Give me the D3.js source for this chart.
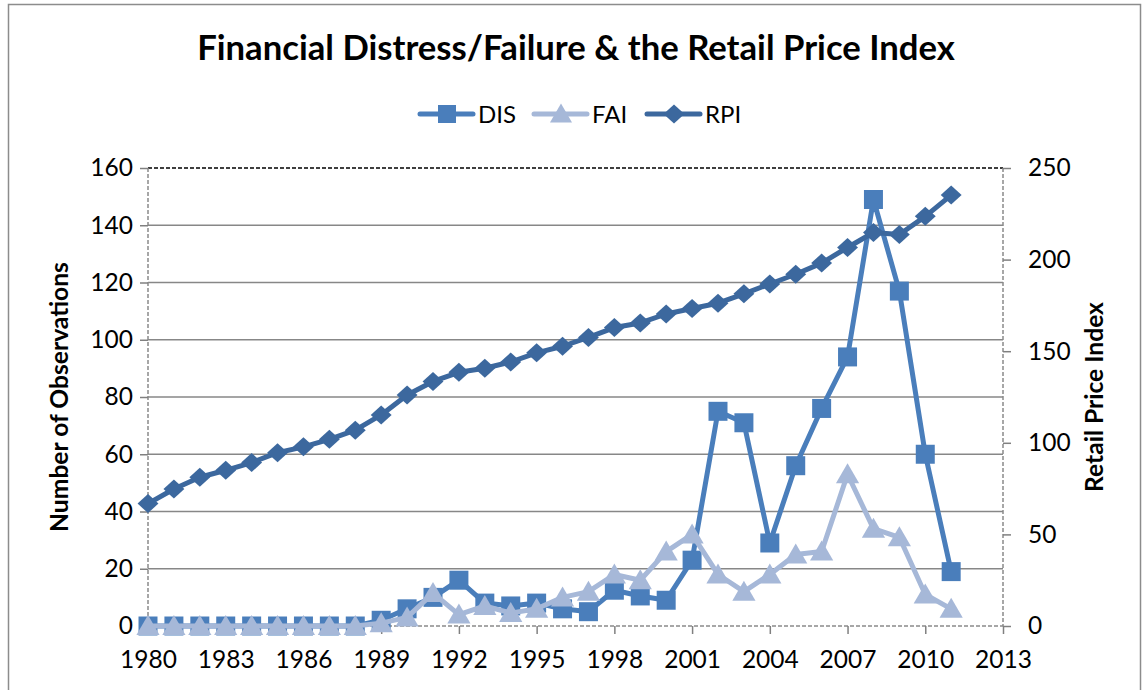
<!DOCTYPE html>
<html>
<head>
<meta charset="utf-8">
<script src="https://cdn.jsdelivr.net/npm/d3@7.9.0/dist/d3.min.js"></script>
<style>
  html, body { margin: 0; padding: 0; background: #fff; }
  svg { display: block; font-family: Lato, "Open Sans", sans-serif; }
</style>
</head>
<body>
<svg id="chart" width="1143" height="690"></svg>
<script>
/* ──── data ──── */
const years = d3.range(1980, 2012);          // 1980 … 2011

const dis = [0, 0, 0, 0, 0, 0, 0, 0, 0, 2, 6, 10, 16, 8, 7, 8,
             6, 5, 12.5, 10.5, 9, 23, 75, 71, 29, 56, 76, 94, 149, 117, 60, 19];

const fai = [0, 0, 0, 0, 0, 0, 0, 0, 0, 1, 3, 11.5, 4, 7, 4.5, 6,
             10, 12, 18, 16, 26, 32, 18, 12, 18, 25, 26, 53, 34, 31, 11, 6];

const rpi = [66.8, 74.8, 81.2, 85.0, 89.2, 94.6, 97.8, 101.9, 106.9, 115.2,
             126.1, 133.5, 138.5, 140.7, 144.1, 149.1, 152.7, 157.5, 162.9, 165.4,
             170.3, 173.3, 176.2, 181.3, 186.7, 192.0, 198.1, 206.6, 214.8, 213.7,
             223.6, 235.2];

const xTicks     = d3.range(1980, 2014, 3);
const leftTicks  = d3.range(0, 161, 20);
const rightTicks = d3.range(0, 251, 50);

const seriesNames = ['DIS', 'FAI', 'RPI'];

/* ──── layout ──── */
const plot = { left: 148, right: 1003, top: 168, bottom: 626 };

const colDIS = '#4a7ebb';
const colFAI = '#a6b8d8';
const colRPI = '#3c689e';

const svg = d3.select('#chart');

const x  = d3.scaleLinear().domain([1980, 2013]).range([plot.left, plot.right]);
const yL = d3.scaleLinear().domain([0, 160]).range([plot.bottom, plot.top]);
const yR = d3.scaleLinear().domain([0, 250]).range([plot.bottom, plot.top]);

/* marker shapes, centred on 0,0 */
const square   = s => `M${-s/2},${-s/2}h${s}v${s}h${-s}Z`;
const triangle = s => `M0,${-s*0.55}L${s*0.58},${s*0.45}L${-s*0.58},${s*0.45}Z`;
const diamond  = s => `M0,${-s*0.5}L${s*0.55},0L0,${s*0.5}L${-s*0.55},0Z`;

// scale a text node's font so it spans the width measured on the reference
function fitWidth (sel, size, target) {
  const w = sel.node().getComputedTextLength();
  sel.attr('font-size', size * target / w);
}

/* ──── outer border ──── */
svg.append('rect')
   .attr('x', 8.5).attr('y', 4.5)
   .attr('width', 1132).attr('height', 700)
   .attr('fill', 'none')
   .attr('stroke', '#8c8c8c')
   .attr('stroke-width', 1.5);

/* ──── title ──── */
const title = svg.append('text')
   .attr('x', 576).attr('y', 60)
   .attr('text-anchor', 'middle')
   .attr('font-weight', 'bold')
   .attr('font-size', 30)
   .attr('fill', '#000')
   .text('Financial Distress/Failure & the Retail Price Index');
fitWidth(title, 30, 758);

/* ──── gridlines ──── */
svg.append('g')
   .selectAll('line')
   .data(leftTicks.filter(d => d > 0 && d < 160))
   .join('line')
   .attr('x1', plot.left).attr('x2', plot.right)
   .attr('y1', d => yL(d)).attr('y2', d => yL(d))
   .attr('stroke', '#878787')
   .attr('stroke-width', 1.5);

/* top edge, dashed black */
svg.append('line')
   .attr('x1', plot.left).attr('x2', plot.right)
   .attr('y1', yL(160)).attr('y2', yL(160))
   .attr('stroke', '#000')
   .attr('stroke-width', 1.5)
   .attr('stroke-dasharray', '4,2');

/* ──── axes ──── */
function styleAxis (g) {
  g.select('.domain').remove();
  g.selectAll('.tick line').attr('stroke', '#808080').attr('stroke-width', 1.5);
  g.selectAll('.tick text')
   .attr('fill', '#000')
   .attr('font-size', 24.5)
   .attr('font-family', 'Lato, "Open Sans", sans-serif');
}

const dashed = (x1, y1, x2, y2) =>
  svg.append('line')
     .attr('x1', x1).attr('y1', y1).attr('x2', x2).attr('y2', y2)
     .attr('stroke', '#8a8a8a')
     .attr('stroke-width', 1.5)
     .attr('stroke-dasharray', '4,2');

dashed(plot.left,  plot.top, plot.left,  plot.bottom);
dashed(plot.right, plot.top, plot.right, plot.bottom);
dashed(plot.left,  plot.bottom, plot.right, plot.bottom);

svg.append('g')
   .attr('transform', `translate(${plot.left},0)`)
   .call(d3.axisLeft(yL).tickValues(leftTicks).tickSize(8).tickPadding(7))
   .call(styleAxis);

svg.append('g')
   .attr('transform', `translate(${plot.right},0)`)
   .call(d3.axisRight(yR).tickValues(rightTicks).tickSize(8).tickPadding(17))
   .call(styleAxis);

svg.append('g')
   .attr('transform', `translate(0,${plot.bottom})`)
   .call(d3.axisBottom(x).tickValues(xTicks).tickFormat(d3.format('d'))
           .tickSize(8).tickPadding(17))
   .call(styleAxis);

/* axis titles */
const leftTitle = svg.append('text')
   .attr('transform', `translate(68,397) rotate(-90)`)
   .attr('text-anchor', 'middle')
   .attr('font-weight', 'bold')
   .attr('font-size', 20)
   .text('Number of Observations');
fitWidth(leftTitle, 20, 270);

const rightTitle = svg.append('text')
   .attr('transform', `translate(1103,397) rotate(-90)`)
   .attr('text-anchor', 'middle')
   .attr('font-weight', 'bold')
   .attr('font-size', 20)
   .text('Retail Price Index');
fitWidth(rightTitle, 20, 190);

/* ──── series ──── */
function drawSeries (values, yScale, color, shape, size) {
  const pts  = years.map((yr, i) => [yr, values[i]]);
  const line = d3.line().x(d => x(d[0])).y(d => yScale(d[1]));

  svg.append('path')
     .datum(pts)
     .attr('d', line)
     .attr('fill', 'none')
     .attr('stroke', color)
     .attr('stroke-width', 5)
     .attr('stroke-linejoin', 'round');

  svg.append('g')
     .selectAll('path')
     .data(pts)
     .join('path')
     .attr('transform', d => `translate(${x(d[0])},${yScale(d[1])})`)
     .attr('d', shape(size))
     .attr('fill', color);
}

drawSeries(dis, yL, colDIS, square,   19);
drawSeries(fai, yL, colFAI, triangle, 20);
drawSeries(rpi, yR, colRPI, diamond,  19);

/* ──── legend ──── */
const legendItems = [
  { name: seriesNames[0], color: colDIS, shape: square,   size: 18, x0: 420 },
  { name: seriesNames[1], color: colFAI, shape: triangle, size: 19, x0: 534 },
  { name: seriesNames[2], color: colRPI, shape: diamond,  size: 19, x0: 647 }
];

const legend = svg.append('g').attr('transform', 'translate(0,114)');

const li = legend.selectAll('g')
   .data(legendItems)
   .join('g')
   .attr('transform', d => `translate(${d.x0},0)`);

li.append('line')
  .attr('x1', 0).attr('x2', 53)
  .attr('stroke', d => d.color)
  .attr('stroke-width', 5)
  .attr('stroke-linecap', 'round');

li.append('path')
  .attr('transform', 'translate(27,0)')
  .attr('d', d => d.shape(d.size))
  .attr('fill', d => d.color);

li.append('text')
  .attr('x', 58)
  .attr('dy', '0.36em')
  .attr('font-size', 24)
  .attr('fill', '#000')
  .text(d => d.name);
</script>
</body>
</html>
